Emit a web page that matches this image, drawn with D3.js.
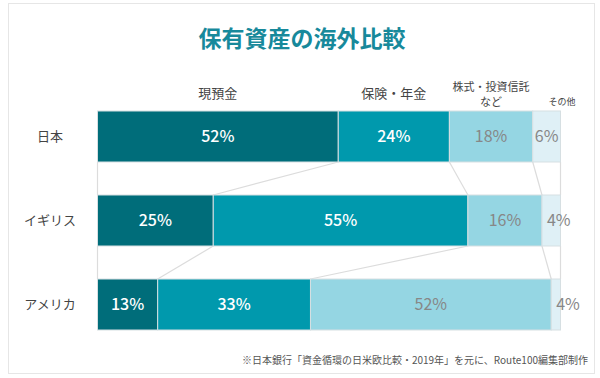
<!DOCTYPE html>
<html>
<head>
<meta charset="utf-8">
<script src="https://cdn.jsdelivr.net/npm/d3@7"></script>
<style>
  body { margin: 0; background: #fff; }
  svg { display: block; font-family: "Noto Sans CJK JP", "Noto Sans", sans-serif; }
</style>
</head>
<body>
<svg id="chart"></svg>
<script>
const countries = ["日本", "イギリス", "アメリカ"]
const assetKeys = ["cash", "insurance", "stocks", "other"]
const headers = ["現預金", "保険・年金", "株式・投資信託\nなど", "その他"]
const cashValues      = [52, 25, 13]
const insuranceValues = [24, 55, 33]
const stocksValues    = [18, 16, 52]
const otherValues     = [6, 4, 4]

const colors = ["#006d7a", "#0099ad", "#95d6e3", "#dff0f6"]
const labelColors = ["#fff", "#fff", "#878787", "#878787"]

const width = 600
const height = 378

const rows = countries.map((c, i) => ({
  country: c,
  cash: cashValues[i],
  insurance: insuranceValues[i],
  stocks: stocksValues[i],
  other: otherValues[i]
}))

const svg = d3.select("#chart").attr("width", width).attr("height", height)

// card frame
svg.append("rect")
  .attr("x", 8.5).attr("y", 3.5)
  .attr("width", 586).attr("height", 370)
  .attr("fill", "#fff")
  .attr("stroke", "#e6e6e6")

svg.append("text")
  .attr("x", 302).attr("y", 47)
  .attr("text-anchor", "middle")
  .attr("font-size", 23).attr("font-weight", 700)
  .attr("fill", "#17899b")
  .text("保有資産の海外比較")

// bars run to 100%, anything beyond is cut at the right edge
const x = d3.scaleLinear().domain([0, 100]).range([97.5, 560.5]).clamp(true)
const y = d3.scaleBand().domain(countries).range([111, 330]).paddingInner(0.393)

const series = d3.stack().keys(assetKeys)(rows)

// connector lines between rows
const bounds = rows.map((r, i) => [0].concat(series.map(s => s[i][1])))
const links = []
for (let i = 0; i < rows.length - 1; i++) {
  bounds[i].forEach((b, k) => {
    links.push({ x1: x(b), y1: y(countries[i]) + y.bandwidth(), x2: x(bounds[i + 1][k]), y2: y(countries[i + 1]) })
  })
}
svg.append("g")
  .selectAll("line")
  .data(links)
  .join("line")
    .attr("x1", d => d.x1).attr("y1", d => d.y1)
    .attr("x2", d => d.x2).attr("y2", d => d.y2)
    .attr("stroke", "#dcdcdc")
    .attr("stroke-width", 1.2)

// bars
const layer = svg.append("g")
  .selectAll("g")
  .data(series)
  .join("g")

layer.selectAll("rect")
  .data((s, k) => s.map(d => ({ d, k })))
  .join("rect")
    .attr("x", o => x(o.d[0]))
    .attr("y", o => y(o.d.data.country))
    .attr("width", o => x(o.d[1]) - x(o.d[0]))
    .attr("height", y.bandwidth())
    .attr("fill", o => colors[o.k])
    .attr("stroke", "#d6dfe2")
    .attr("stroke-width", 1)

// value labels
const narrow = o => x(o.d[1]) - x(o.d[0]) < 25
layer.selectAll("text")
  .data((s, k) => s.map(d => ({ d, k, key: s.key })))
  .join("text")
    .attr("x", o => narrow(o) ? x(o.d[0]) + 5 : (x(o.d[0]) + x(o.d[1])) / 2)
    .attr("text-anchor", o => narrow(o) ? "start" : "middle")
    .attr("y", o => y(o.d.data.country) + y.bandwidth() / 2)
    .attr("dy", "0.36em")
    .attr("font-size", 16)
    .attr("font-weight", o => o.k < 2 ? 500 : 400)
    .attr("fill", o => labelColors[o.k])
    .text(o => o.d.data[o.key] + "%")

// country labels
svg.append("g")
  .selectAll("text")
  .data(countries)
  .join("text")
    .attr("x", 50)
    .attr("y", d => y(d) + y.bandwidth() / 2)
    .attr("dy", "0.36em")
    .attr("text-anchor", "middle")
    .attr("font-size", 13)
    .attr("fill", "#444")
    .text(d => d)

// column headers above the first row, one text per line
const first = series.map(s => s[0])
const headLines = []
headers.forEach((h, k) => {
  const lines = h.split("\n")
  lines.forEach((t, j) => headLines.push({
    t,
    k,
    x: k === 3 ? 562 : (x(first[k][0]) + x(first[k][1])) / 2,
    y: lines.length > 1 ? 91 + j * 15 : k === 3 ? 105 : 98
  }))
})
svg.append("g")
  .selectAll("text")
  .data(headLines)
  .join("text")
    .attr("x", d => d.x)
    .attr("y", d => d.y)
    .attr("text-anchor", "middle")
    .attr("font-size", d => d.k === 3 ? 9 : d.k === 2 ? 11 : 13)
    .attr("fill", "#444")
    .text(d => d.t)

svg.append("text")
  .attr("x", 588).attr("y", 364)
  .attr("text-anchor", "end")
  .attr("font-size", 10)
  .attr("fill", "#555")
  .text("※日本銀行「資金循環の日米欧比較・2019年」を元に、Route100編集部制作")
</script>
</body>
</html>
